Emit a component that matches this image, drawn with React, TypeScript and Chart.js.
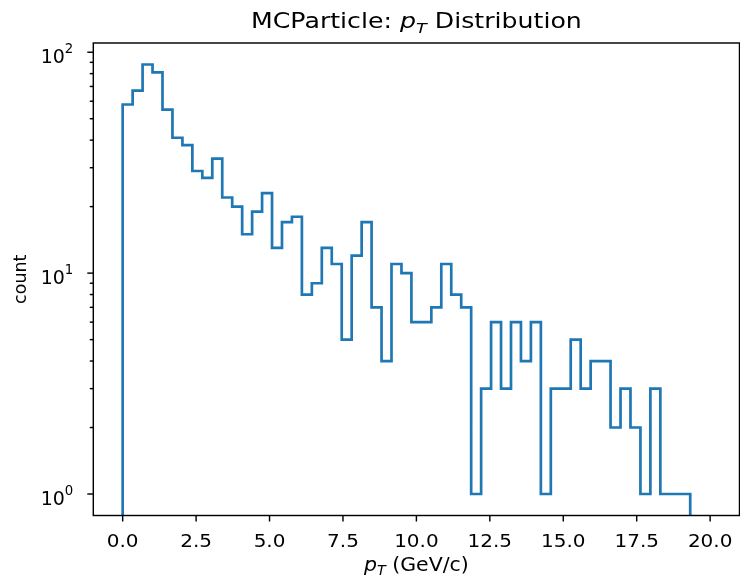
import React, { useEffect, useRef } from 'react';
import { Chart, registerables } from 'chart.js';

Chart.register(...registerables);

// ---- data ----
const BIN_MIN = 0;
const BIN_MAX = 20;
const BIN_COUNT = 59;
const COUNTS = [
  58, 67, 88, 81, 55, 41, 38, 29, 27, 33, 22, 20, 15, 19, 23, 13, 17, 18, 8, 9,
  13, 11, 5, 12, 17, 7, 4, 11, 10, 6, 6, 7, 11, 8, 7, 1, 3, 6, 3, 6,
  4, 6, 1, 3, 3, 5, 3, 4, 4, 2, 3, 2, 1, 3, 1, 1, 1, 0, 0,
];
const X_TICKS = [0, 2.5, 5, 7.5, 10, 12.5, 15, 17.5, 20];
const Y_MAJOR = [1, 10, 100];
const Y_MINOR = [2, 3, 4, 5, 6, 7, 8, 9, 20, 30, 40, 50, 60, 70, 80, 90];
const X_LIMITS = [-1, 21];
const Y_LIMITS = [0.7994, 110.1];

const FONT = '"DejaVu Sans"';
const LINE_COLOR = '#1f77b4';
const FLOOR = 0.1; // below axis minimum, clipped away (stands for zero counts)

const BIN_EDGES = Array.from(
  { length: BIN_COUNT + 1 },
  (_, i) => BIN_MIN + ((BIN_MAX - BIN_MIN) * i) / BIN_COUNT
);

type Run = { text: string; italic?: boolean; sub?: boolean };

function drawRuns(
  ctx: CanvasRenderingContext2D,
  runs: Run[],
  cx: number,
  baseline: number,
  size: number,
  sx: number
) {
  const fonts = runs.map(
    (r) => `${r.italic ? 'italic ' : ''}${r.sub ? size * 0.7 : size}px ${FONT}`
  );
  const widths = runs.map((r, i) => {
    ctx.font = fonts[i];
    return ctx.measureText(r.text).width;
  });
  const total = widths.reduce((a, b) => a + b, 0);
  ctx.save();
  ctx.translate(cx, baseline);
  ctx.scale(sx, 1);
  let x = -total / 2;
  ctx.textAlign = 'left';
  ctx.textBaseline = 'alphabetic';
  runs.forEach((r, i) => {
    ctx.font = fonts[i];
    ctx.fillText(r.text, x, r.sub ? size * 0.2 : 0);
    x += widths[i];
  });
  ctx.restore();
}

const mplAxes = {
  id: 'mplAxes',
  afterDraw(chart: any) {
    const { ctx, chartArea: a, scales } = chart;
    const xs = scales.x;
    const ys = scales.y;
    ctx.save();
    ctx.strokeStyle = '#000';
    ctx.fillStyle = '#000';
    ctx.lineWidth = 1.44;
    ctx.lineCap = 'butt';

    // spines
    ctx.strokeRect(a.left, a.top, a.right - a.left, a.bottom - a.top);

    // x ticks + labels
    xs.ticks.forEach((t: any) => {
      const px = xs.getPixelForValue(t.value);
      ctx.beginPath();
      ctx.moveTo(px, a.bottom);
      ctx.lineTo(px, a.bottom + 6);
      ctx.stroke();
      drawRuns(ctx, [{ text: Number(t.value).toFixed(1) }], px, a.bottom + 31.2, 18.5, 1.08);
    });

    // y ticks + labels
    ys.ticks.forEach((t: any) => {
      const py = ys.getPixelForValue(t.value);
      const len = t.major ? 6 : 3.5;
      ctx.beginPath();
      ctx.moveTo(a.left, py);
      ctx.lineTo(a.left - len, py);
      ctx.stroke();
      if (t.major) {
        const exp = String(Math.round(Math.log10(t.value)));
        ctx.font = `19px ${FONT}`;
        const wBase = ctx.measureText('10').width;
        ctx.font = `13.3px ${FONT}`;
        const wExp = ctx.measureText(exp).width;
        const right = a.left - 20;
        ctx.textAlign = 'left';
        ctx.textBaseline = 'alphabetic';
        ctx.font = `19px ${FONT}`;
        ctx.fillText('10', right - wExp - wBase, py + 10.7);
        ctx.font = `13.3px ${FONT}`;
        ctx.fillText(exp, right - wExp, py + 1);
      }
    });

    const cx = (a.left + a.right) / 2;
    // title
    drawRuns(
      ctx,
      [
        { text: 'MCParticle: ' },
        { text: 'p', italic: true },
        { text: 'T', italic: true, sub: true },
        { text: ' Distribution' },
      ],
      cx,
      28.3,
      21,
      1.2
    );
    // x label
    drawRuns(
      ctx,
      [
        { text: 'p', italic: true },
        { text: 'T', italic: true, sub: true },
        { text: ' (GeV/c)' },
      ],
      cx,
      a.bottom + 55.5,
      19.5,
      1.05
    );
    // y label
    ctx.save();
    ctx.translate(25.5, (a.top + a.bottom) / 2);
    ctx.rotate(-Math.PI / 2);
    ctx.font = `17.5px ${FONT}`;
    ctx.textAlign = 'center';
    ctx.textBaseline = 'alphabetic';
    ctx.fillText('count', 0, 0);
    ctx.restore();

    ctx.restore();
  },
};

export default function App() {
  const ref = useRef<HTMLCanvasElement>(null);

  useEffect(() => {
    document.body.style.margin = '0';
    const points: { x: number; y: number }[] = [{ x: BIN_EDGES[0], y: FLOOR }];
    COUNTS.forEach((c, i) => {
      points.push({ x: BIN_EDGES[i], y: c > 0 ? c : FLOOR });
    });
    points.push({ x: BIN_EDGES[BIN_COUNT], y: FLOOR });

    const chart = new Chart(ref.current as HTMLCanvasElement, {
      type: 'line',
      data: {
        datasets: [
          {
            data: points,
            stepped: 'before',
            borderColor: LINE_COLOR,
            borderWidth: 2.7,
            borderJoinStyle: 'miter',
            borderCapStyle: 'butt',
            pointRadius: 0,
            fill: false,
            tension: 0,
            clip: 0,
          } as any,
        ],
      },
      options: {
        animation: false,
        responsive: false,
        events: [],
        layout: { padding: { top: 43, right: 0.5, left: 0, bottom: 0 } },
        plugins: {
          legend: { display: false },
          tooltip: { enabled: false },
          title: { display: false },
        },
        scales: {
          x: {
            type: 'linear',
            min: X_LIMITS[0],
            max: X_LIMITS[1],
            grid: { display: false },
            border: { display: false },
            ticks: { display: false },
            afterBuildTicks: (s: any) => {
              s.ticks = X_TICKS.map((v) => ({ value: v }));
            },
            afterFit: (s: any) => {
              s.height = 71.5;
            },
          },
          y: {
            type: 'logarithmic',
            min: Y_LIMITS[0],
            max: Y_LIMITS[1],
            grid: { display: false },
            border: { display: false },
            ticks: { display: false },
            afterBuildTicks: (s: any) => {
              s.ticks = [
                ...Y_MAJOR.map((v) => ({ value: v, major: true })),
                ...Y_MINOR.map((v) => ({ value: v, major: false })),
              ];
            },
            afterFit: (s: any) => {
              s.width = 93.3;
            },
          },
        },
      } as any,
      plugins: [mplAxes],
    });
    return () => chart.destroy();
  }, []);

  return (
    <div style={{ width: 740, height: 587, background: '#fff' }}>
      <canvas ref={ref} width={740} height={587} style={{ display: 'block' }} />
    </div>
  );
}
